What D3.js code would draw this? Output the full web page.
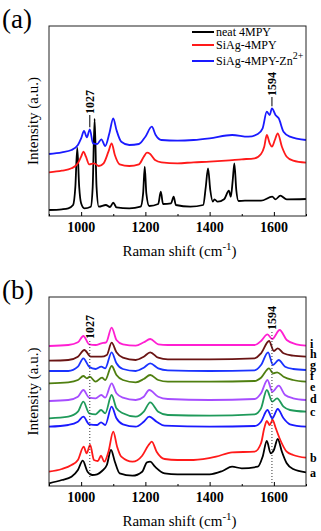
<!DOCTYPE html>
<html>
<head>
<meta charset="utf-8">
<script src="https://cdn.jsdelivr.net/npm/d3@7"></script>
<style>
  body { margin: 0; background: #fff; }
  svg { display: block; }
  text { font-family: "Liberation Serif", "Times New Roman", serif; }
</style>
</head>
<body>
<div id="chart"></div>
<script>
// Raman shift ticks
const xTicks = [1000, 1200, 1400, 1600]
const xMinor = [900, 1100, 1300, 1500, 1700]

// panel (a) spectra: [shift, intensity]
const neat4MPY = [[900,6],[940,6.7],[960,7.7],[975,11],[982,29],[988,68],[994,29],[1000,12.7],[1010,7.7],[1030,9.3],[1036,29],[1042,97],[1048,29],[1055,9.3],[1077,11],[1090,9],[1100,13.3],[1110,8.7],[1150,7.7],[1185,9.3],[1193,22.7],[1198,49.3],[1203,22.7],[1212,10],[1240,12],[1248,24.3],[1255,12],[1280,12.7],[1288,19.3],[1295,11],[1340,9.3],[1380,11],[1388,29],[1395,47.7],[1402,26],[1410,14.3],[1415,16.7],[1425,14.3],[1445,16.7],[1460,25.3],[1466,19.3],[1472,36],[1477,52.7],[1483,26],[1490,15],[1510,15.3],[1560,15.3],[1595,19.3],[1605,16.7],[1620,20.3],[1640,16.7],[1700,17]]
const siAg4MPY = [[900,43.7],[940,45.3],[970,47.7],[990,52.7],[1000,59.3],[1007,64.3],[1015,59.3],[1025,51.7],[1040,52.7],[1055,50],[1070,52.7],[1085,64.3],[1095,72.7],[1105,61],[1120,51.7],[1150,50],[1180,51.7],[1195,59.3],[1205,63.3],[1215,62],[1230,56],[1250,53.7],[1300,52.7],[1350,53.7],[1400,54.3],[1450,55.3],[1500,56.7],[1540,57.7],[1560,62],[1570,69.3],[1578,81],[1587,72.7],[1594,69.3],[1603,76],[1612,82.7],[1625,69.3],[1640,59.3],[1660,55.3],[1700,53.3]]
const siAgZn = [[900,62],[940,63.7],[970,66],[990,71],[1000,77.7],[1009,85],[1018,78.7],[1027,86.7],[1037,72.7],[1050,72],[1063,76.7],[1075,70],[1088,82.7],[1100,97.7],[1110,86],[1125,74.3],[1150,71],[1180,72],[1200,79.3],[1220,89.3],[1232,81],[1250,76],[1300,75.3],[1350,76],[1400,77.7],[1470,81],[1520,79.3],[1550,82],[1565,87.7],[1578,104.3],[1587,101],[1594,107.7],[1605,101],[1615,97.7],[1630,84.3],[1650,79.3],[1700,76]]

const seriesA = [
  { name: 'neat 4MPY', color: '#000000', data: neat4MPY },
  { name: 'SiAg-4MPY', color: '#ff1a1a', data: siAg4MPY },
  { name: 'SiAg-4MPY-Zn', color: '#1a1aff', data: siAgZn }
]

// panel (b) spectra a..i
const specA = [[900,2.7],[940,6],[970,9.3],[990,16],[1005,25.3],[1020,14.3],[1035,11],[1050,11.7],[1065,15],[1080,21],[1093,36],[1105,24.3],[1120,12.7],[1160,10.3],[1190,14.3],[1205,23.7],[1215,24.3],[1230,19.3],[1260,12.7],[1300,11.7],[1400,11.7],[1440,15],[1470,19.3],[1500,17.7],[1550,19.3],[1565,29.3],[1578,45],[1590,32.7],[1600,36],[1612,47],[1625,34.3],[1640,22.7],[1660,17],[1700,13.7]]
const specB = [[900,14.3],[940,17],[970,21],[990,26],[1008,39.3],[1017,32.7],[1028,41],[1040,26],[1052,25],[1062,30.3],[1072,24.3],[1085,34.3],[1100,54.3],[1112,39.3],[1125,29.3],[1160,24.3],[1190,30.3],[1210,41],[1220,44.3],[1235,34.3],[1260,27],[1300,26],[1350,26],[1420,29.3],[1470,33.7],[1540,34.3],[1560,42.7],[1570,57.7],[1578,65],[1587,61],[1596,66],[1606,57.7],[1620,46],[1640,34.3],[1660,31],[1700,28.3]]
const specC = [[900,59.3],[960,61],[990,64.3],[1007,69.3],[1025,61.7],[1050,61],[1062,63.7],[1075,61],[1095,79.3],[1110,67.7],[1130,61.7],[1170,59.3],[1195,64.3],[1212,69.3],[1235,64.3],[1260,60.3],[1400,59.3],[1540,60],[1560,64.3],[1580,76],[1595,67.7],[1612,77],[1630,67.7],[1650,61.7],[1700,59.3]]
const specD = [[900,67.7],[960,69.3],[990,74.3],[1007,84.3],[1025,72.7],[1045,71.7],[1062,76],[1075,72.7],[1095,91],[1110,77.7],[1130,72.7],[1170,69.3],[1195,74.3],[1215,83.7],[1240,74.3],[1270,71],[1400,70.3],[1540,71.7],[1560,77.7],[1578,96],[1595,84.3],[1610,87.7],[1630,79.3],[1650,76],[1700,74.3]]
const specE = [[900,85],[960,86],[990,89.3],[1007,96],[1025,88.3],[1045,87.7],[1063,91],[1075,88.3],[1095,102.7],[1110,92.7],[1130,88.3],[1170,86],[1195,89.3],[1212,96],[1240,89.3],[1270,87],[1400,86],[1540,87],[1560,92.7],[1580,106],[1595,94.3],[1615,100.3],[1635,91],[1660,87.7],[1700,86]]
const specF = [[900,102.7],[960,103.7],[990,106],[1007,110],[1018,107.7],[1027,109.3],[1045,104.3],[1065,108.3],[1075,106],[1095,120],[1110,111],[1130,106],[1170,103.7],[1195,107],[1215,111],[1240,106],[1270,104.3],[1400,104.3],[1540,105],[1560,108.3],[1585,117.7],[1597,112.7],[1610,113.7],[1630,109.3],[1660,106],[1700,104.3]]
const specG = [[900,115],[960,115],[990,119.3],[1007,127.7],[1025,119.3],[1045,117],[1063,119.3],[1075,117.7],[1095,133.7],[1110,122.7],[1130,117],[1170,115],[1195,118.3],[1215,122.7],[1240,117.7],[1270,115.7],[1400,115],[1540,115.7],[1560,121],[1582,133.7],[1597,121],[1615,126],[1635,119.3],[1660,117],[1700,116]]
const specH = [[900,125.3],[960,126],[990,129.3],[1010,136],[1030,129.3],[1063,129.3],[1080,131],[1095,143.3],[1110,133.7],[1130,128.3],[1170,126],[1195,129.3],[1215,133.7],[1240,128.3],[1270,126.7],[1400,126.7],[1540,127.7],[1560,132.7],[1585,145],[1600,135],[1612,137.7],[1630,132.7],[1660,130.3],[1700,129.3]]
const specI = [[900,140],[960,141],[990,143.7],[1007,150],[1025,141.7],[1045,141],[1063,142.7],[1078,143.7],[1095,158.3],[1110,146],[1130,141.7],[1170,140.3],[1195,143.7],[1215,147],[1240,141.7],[1270,141],[1400,141],[1540,141],[1560,145],[1580,151.7],[1595,147],[1618,156],[1640,146],[1670,141.7],[1700,140.3]]

const seriesB = [
  { name: 'a', color: '#000000', data: specA, labelY: 473 },
  { name: 'b', color: '#ff1a1a', data: specB, labelY: 458 },
  { name: 'c', color: '#1a1aff', data: specC, labelY: 412 },
  { name: 'd', color: '#1f9a5a', data: specD, labelY: 399 },
  { name: 'e', color: '#a64dff', data: specE, labelY: 387 },
  { name: 'f', color: '#4f7f10', data: specF, labelY: 375.5 },
  { name: 'g', color: '#1a33ff', data: specG, labelY: 364.5 },
  { name: 'h', color: '#6a1414', data: specH, labelY: 354 },
  { name: 'i', color: '#ff1fd2', data: specI, labelY: 344 }
]

const peaks = [1027, 1594]

const width = 321, height = 531
const left = 49, right = 306
const serif = '"Liberation Serif", "Times New Roman", serif'

const svg = d3.select('#chart').append('svg')
  .attr('width', width)
  .attr('height', height)
  .attr('font-family', serif)

const x = d3.scaleLinear().domain([900, 1700]).range([left, right])

// draw one panel
let panel = (top, bottom, series, tag) => {
  const y = d3.scaleLinear().domain([0, bottom - top]).range([bottom, top])
  const g = svg.append('g')

  const line = d3.line()
    .x(d => x(d[0]))
    .y(d => y(d[1]))
    .curve(d3.curveMonotoneX)

  g.selectAll('path.spec')
    .data(series)
    .enter()
    .append('path')
    .attr('class', 'spec')
    .attr('d', d => line(d.data))
    .attr('fill', 'none')
    .attr('stroke', d => d.color)
    .attr('stroke-width', 1.8)
    .attr('stroke-linejoin', 'round')

  // frame
  g.append('rect')
    .attr('x', left).attr('y', top)
    .attr('width', right - left).attr('height', bottom - top)
    .attr('fill', 'none').attr('stroke', '#222').attr('stroke-width', 1)

  // inward ticks
  const xAxis = d3.axisTop(x).tickValues(xTicks).tickSize(4).tickFormat('')
  g.append('g').attr('transform', `translate(0,${bottom})`).call(xAxis)
    .call(a => a.select('.domain').remove())
  const xMinorAxis = d3.axisTop(x).tickValues(xMinor).tickSize(2).tickFormat('')
  g.append('g').attr('transform', `translate(0,${bottom})`).call(xMinorAxis)
    .call(a => a.select('.domain').remove())

  g.selectAll('text.tick')
    .data(xTicks)
    .enter()
    .append('text')
    .attr('x', d => x(d))
    .attr('y', bottom + 16)
    .attr('text-anchor', 'middle')
    .attr('font-family', serif)
    .style('font-weight', 'bold')
    .style('font-size', '14px')
    .text(d => d)

  const xl = g.append('text')
    .attr('x', (left + right) / 2 + 2)
    .attr('y', bottom + 40)
    .attr('text-anchor', 'middle')
    .attr('font-family', serif)
    .style('font-size', '15px')
  xl.append('tspan').text('Raman shift (cm')
  xl.append('tspan').attr('dy', -6).style('font-size', '11px').text('-1')
  xl.append('tspan').attr('dy', 6).text(')')

  g.append('text')
    .attr('transform', `translate(38,${(top + bottom) / 2}) rotate(-90)`)
    .attr('text-anchor', 'middle')
    .attr('font-family', serif)
    .style('font-size', '15px')
    .text('Intensity (a.u.)')

  g.append('text')
    .attr('x', 2).attr('y', top + 2)
    .attr('font-family', serif)
    .style('font-size', '27px')
    .text(tag)

  return { g, y }
}

// panel (a)
const pa = panel(26, 216, seriesA, '(a)')

const legend = pa.g.selectAll('g.leg')
  .data(seriesA)
  .enter()
  .append('g')
  .attr('transform', (d, i) => `translate(192,${[32, 45, 61][i]})`)
legend.append('line')
  .attr('x1', 0).attr('x2', 22)
  .attr('stroke', d => d.color).attr('stroke-width', 2)
const legText = legend.append('text')
  .attr('x', 24).attr('y', 4)
  .attr('font-family', serif)
  .style('font-size', '12px')
  .text(d => d.name)
legText.filter(d => d.name === 'SiAg-4MPY-Zn')
  .append('tspan').attr('dy', -6).style('font-size', '10px').text('2+')

// peak markers (a)
const markA = [[peaks[0], 86.7, 115], [peaks[1], 107.7, 97]]
markA.forEach(([p, v, yTop]) => {
  pa.g.append('line')
    .attr('x1', x(p)).attr('x2', x(p))
    .attr('y1', yTop).attr('y2', pa.y(v) - 2)
    .attr('stroke', '#000').attr('stroke-width', 1)
  pa.g.append('text')
    .attr('transform', `translate(${x(p) + 4},${yTop - 1}) rotate(-90)`)
    .attr('font-family', serif)
    .style('font-size', '12px').style('font-weight', 'bold')
    .text(p)
})

// panel (b)
const pb = panel(297, 486, seriesB, '(b)')

const dotBottom = [478, 483]
peaks.forEach((p, i) => {
  const yTop = i === 0 ? 339 : 330
  pb.g.append('line')
    .attr('x1', x(p)).attr('x2', x(p))
    .attr('y1', yTop + 2).attr('y2', dotBottom[i])
    .attr('stroke', '#333').attr('stroke-width', 1)
    .attr('stroke-dasharray', '1,2')
  pb.g.append('text')
    .attr('transform', `translate(${x(p) + 4},${yTop}) rotate(-90)`)
    .attr('font-family', serif)
    .style('font-size', '12px').style('font-weight', 'bold')
    .text(p)
})

pb.g.selectAll('text.lab')
  .data(seriesB)
  .enter()
  .append('text')
  .attr('x', 310)
  .attr('y', d => d.labelY + 4)
  .attr('font-family', serif)
  .style('font-size', '12px')
  .style('font-weight', 'bold')
  .text(d => d.name)
</script>
</body>
</html>
